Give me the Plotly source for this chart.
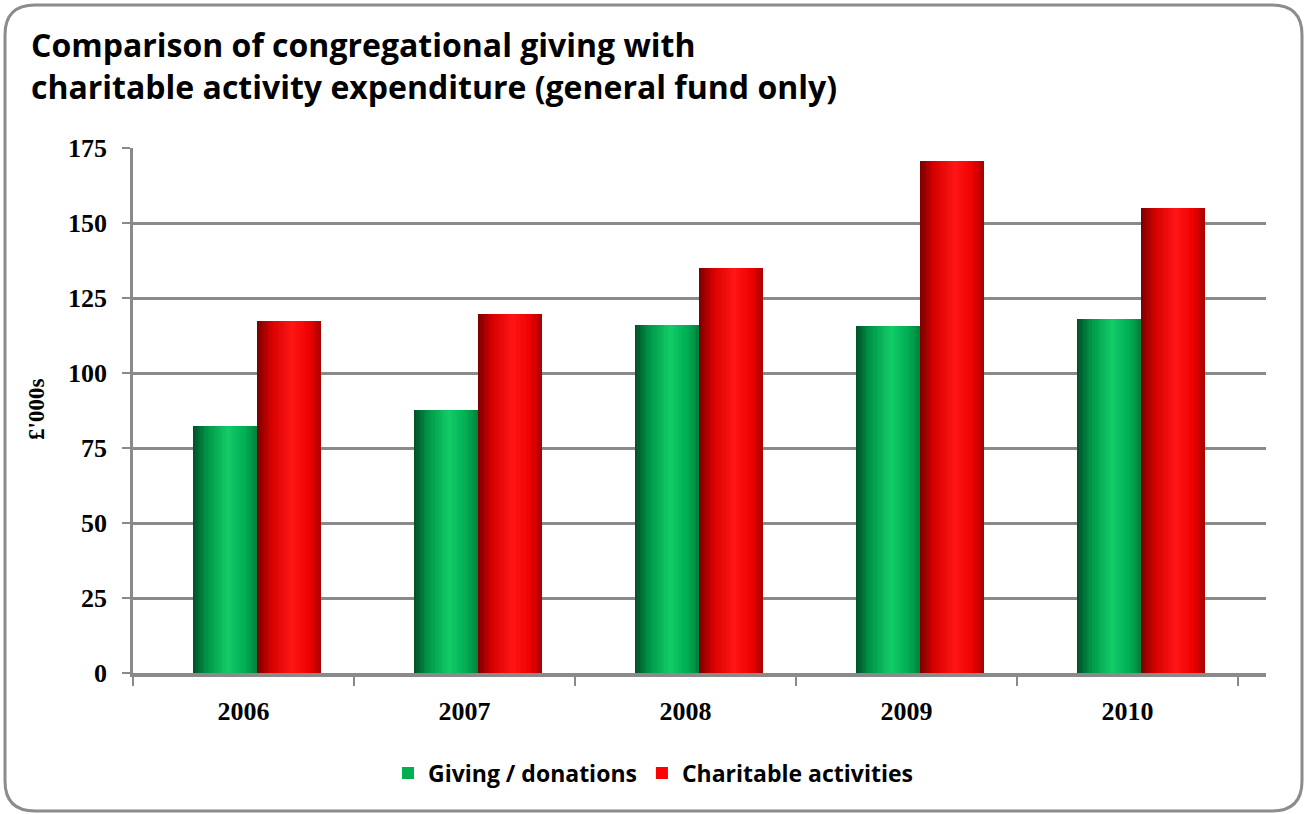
import plotly.graph_objects as go

# ---- data -------------------------------------------------------------
years = ["2006", "2007", "2008", "2009", "2010"]
giving = [82.3, 87.7, 116.0, 115.7, 118.0]
charitable = [117.3, 119.7, 135.0, 170.7, 155.0]
y_ticks = [0, 25, 50, 75, 100, 125, 150, 175]

series_names = ["Giving / donations", "Charitable activities"]
legend_colors = ["#00b050", "#ff0000"]
title_lines = ["Comparison of congregational giving with",
               "charitable activity expenditure (general fund only)"]

# cylinder-style shading stops (position across the bar, rgb)
green_stops = [(0.0, (0, 78, 38)), (0.22, (0, 150, 72)), (0.55, (18, 204, 104)),
               (0.82, (0, 172, 84)), (1.0, (0, 128, 60))]
red_stops = [(0.0, (118, 0, 0)), (0.22, (215, 0, 0)), (0.55, (255, 22, 22)),
             (0.82, (238, 0, 0)), (1.0, (165, 0, 0))]

W, H = 1306, 814
BAR_W = 0.29          # width of each bar in category units
SHIFT = 0.061         # pair sits slightly right of the category centre
N_STRIPS = 26


def px_x(p):
    return p / W


def px_y(p):
    return 1 - p / H


def shade(stops, t):
    for (p0, c0), (p1, c1) in zip(stops[:-1], stops[1:]):
        if p0 <= t <= p1:
            f = (t - p0) / (p1 - p0)
            c = [round(a + (b - a) * f) for a, b in zip(c0, c1)]
            return f"rgb({c[0]},{c[1]},{c[2]})"
    c = stops[-1][1]
    return f"rgb({c[0]},{c[1]},{c[2]})"


fig = go.Figure()

for name, vals, base_col, stops, off0 in [
    (series_names[0], giving, legend_colors[0], green_stops, SHIFT - BAR_W),
    (series_names[1], charitable, legend_colors[1], red_stops, SHIFT),
]:
    # solid base bar (also supplies the legend entry)
    fig.add_trace(go.Bar(
        x=years, y=vals, name=name, offset=off0, width=BAR_W,
        marker=dict(color=base_col, line=dict(width=0)),
        legendgroup=name, showlegend=True, hoverinfo="skip",
    ))
    # thin vertical strips that give the rounded, shaded look
    step = BAR_W / N_STRIPS
    for i in range(N_STRIPS):
        t = (i + 0.5) / N_STRIPS
        wdt = min(step * 1.6, BAR_W - i * step)
        fig.add_trace(go.Bar(
            x=years, y=vals, offset=off0 + i * step, width=wdt,
            marker=dict(color=shade(stops, t), line=dict(width=0)),
            legendgroup=name, showlegend=False, hoverinfo="skip",
        ))

axis_gray = "#8a8a8a"
tick_font = dict(family="Liberation Serif", size=26, color="#000000", weight="bold")
sans = "Open Sans"

fig.update_layout(
    width=W, height=H, autosize=False,
    margin=dict(l=0, r=0, t=0, b=0),
    paper_bgcolor="white", plot_bgcolor="rgba(0,0,0,0)",
    barmode="overlay", bargap=0,
    showlegend=True,
    legend=dict(
        orientation="h", x=0.5, xanchor="center",
        y=px_y(773), yanchor="middle",
        font=dict(family=sans, size=23, color="#000000", weight="bold"),
        itemsizing="constant", traceorder="normal",
        bgcolor="rgba(0,0,0,0)",
    ),
    xaxis=dict(
        type="category",
        domain=[px_x(133), px_x(1266)],
        range=[-0.5, 4.627],
        showgrid=False, zeroline=False,
        showline=True, linecolor=axis_gray, linewidth=4,
        ticks="outside", tickson="boundaries", ticklen=9,
        tickwidth=2, tickcolor=axis_gray,
        tickfont=tick_font, ticklabelstandoff=12,
        automargin=False, fixedrange=True,
    ),
    yaxis=dict(
        domain=[px_y(673), px_y(148)],
        range=[0, 175],
        tickvals=y_ticks,
        showgrid=True, gridcolor=axis_gray, gridwidth=2.5,
        zeroline=False,
        showline=True, linecolor=axis_gray, linewidth=2.5,
        ticks="outside", ticklen=8, tickwidth=2, tickcolor=axis_gray,
        tickfont=tick_font, ticklabelstandoff=10,
        automargin=False, fixedrange=True,
    ),
)

# chart title (two lines)
fig.add_annotation(
    text="<b>" + "<br>".join(title_lines) + "</b>",
    xref="paper", yref="paper", x=px_x(29), y=px_y(21),
    xanchor="left", yanchor="top", align="left", showarrow=False,
    font=dict(family=sans, size=32, color="#000000"),
)

# y-axis title
fig.add_annotation(
    text="<b>£'000s</b>", textangle=-90,
    xref="paper", yref="paper", x=px_x(36), y=px_y(410),
    xanchor="center", yanchor="middle", showarrow=False,
    font=dict(family="Liberation Serif", size=23, color="#000000"),
)

# rounded outer frame
x0, x1 = px_x(5), px_x(1302)
y0, y1 = px_y(811), px_y(5)
rx, ry = 30 / W, 30 / H
frame = (f"M {x0 + rx},{y1} L {x1 - rx},{y1} Q {x1},{y1} {x1},{y1 - ry} "
         f"L {x1},{y0 + ry} Q {x1},{y0} {x1 - rx},{y0} "
         f"L {x0 + rx},{y0} Q {x0},{y0} {x0},{y0 + ry} "
         f"L {x0},{y1 - ry} Q {x0},{y1} {x0 + rx},{y1} Z")
fig.add_shape(type="path", path=frame, xref="paper", yref="paper",
              line=dict(color="#8c8c8c", width=3), layer="above")

fig.write_html("out.html")
